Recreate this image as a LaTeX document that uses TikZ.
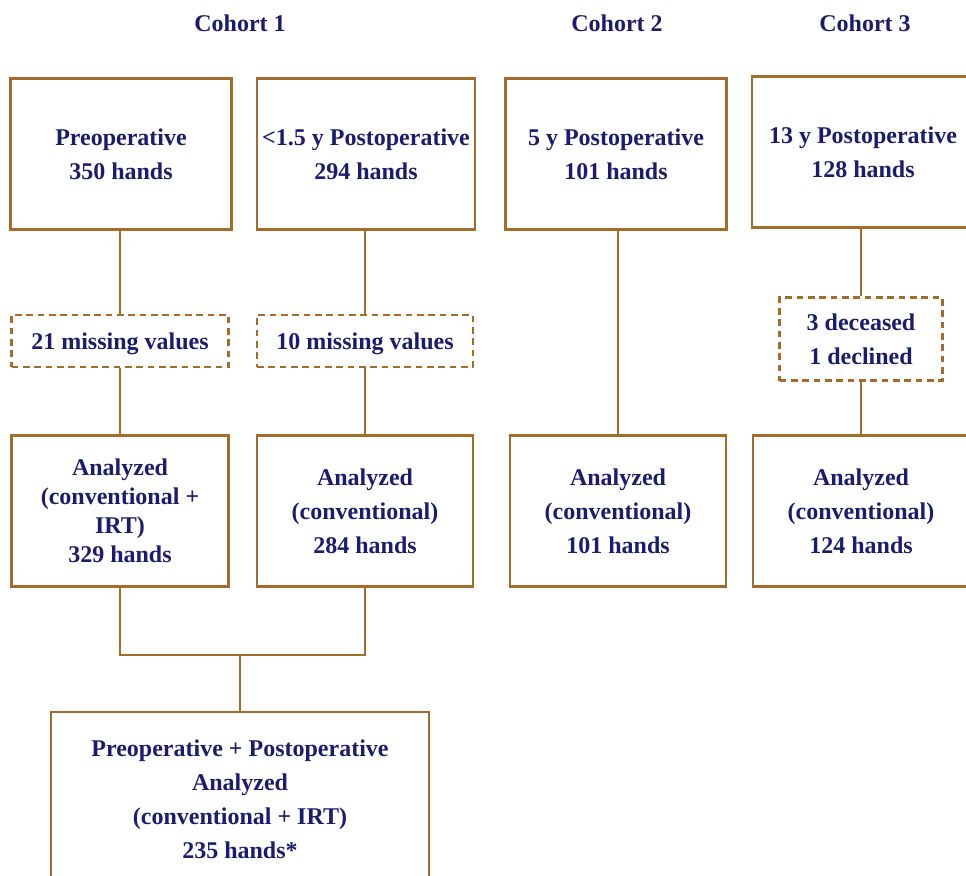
\documentclass[tikz,border=0pt]{standalone}
\usepackage{fontspec}
\setmainfont{Liberation Serif}
\definecolor{boxbrown}{RGB}{163,108,42}
\definecolor{textnavy}{RGB}{28,28,110}

\begin{document}
\begin{tikzpicture}[
  x=0.75pt, y=-0.75pt,
  every node/.style={align=center, text=textnavy, font=\fontsize{18}{25.5}\selectfont\bfseries},
  bigbox/.style={draw=boxbrown, line width=2.1pt, minimum width=#1, minimum height=113.25pt, inner sep=0pt},
  lossbox/.style={draw=boxbrown, line width=1.8pt, dash pattern=on 5pt off 3.5pt, minimum width=#1, inner sep=0pt},
  link/.style={draw=boxbrown, line width=2.1pt}
]
\useasboundingbox (0,0) rectangle (966,875);

% cohort titles
\node (title1) at (240,23) {Cohort 1};
\node (title2) at (617,23) {Cohort 2};
\node (title3) at (865,23) {Cohort 3};

% first row
\node[bigbox=165.75pt] (pre)   at (121,154) {Preoperative\\350 hands};
\node[bigbox=163.5pt]  (post1) at (366,154) {<1.5 y Postoperative\\294 hands};
\node[bigbox=165.75pt] (post5) at (616,154) {5 y Postoperative\\101 hands};
\node[bigbox=166.5pt]  (post13) at (863,152) {13 y Postoperative\\128 hands};

% losses
\node[lossbox=162.75pt, minimum height=39pt, text depth=0pt] (miss1) at (120,341) {21 missing values};
\node[lossbox=162pt, minimum height=39pt, text depth=0pt]    (miss2) at (365,341) {10 missing values};
\node[lossbox=122.25pt, minimum height=62.25pt] (lost3) at (861,339) {3 deceased\\1 declined};

% analyzed
\node[bigbox=162.75pt, font=\fontsize{18}{21.75}\selectfont\bfseries] (anapre) at (120,511) {Analyzed\\(conventional +\\IRT)\\329 hands};
\node[bigbox=162pt] (anapost1)  at (365,511) {Analyzed\\(conventional)\\284 hands};
\node[bigbox=162pt] (anapost5)  at (618,511) {Analyzed\\(conventional)\\101 hands};
\node[bigbox=162pt] (anapost13) at (861,511) {Analyzed\\(conventional)\\124 hands};

% combined
\coordinate (merge) at (240,655);
\node[bigbox=283.5pt, minimum height=130.5pt] (both) at (240,799) {Preoperative + Postoperative\\Analyzed\\(conventional + IRT)\\235 hands*};

% connectors
\draw[link] (pre.south -| miss1) -- (miss1);
\draw[link] (miss1) -- (anapre.north -| miss1);
\draw[link] (post1.south -| miss2) -- (miss2);
\draw[link] (miss2) -- (anapost1);
\draw[link] (post5.south -| anapost5) -- (anapost5);
\draw[link] (post13.south -| lost3) -- (lost3);
\draw[link] (lost3) -- (anapost13.north -| lost3);
\draw[link] (anapre.south) |- (merge) -| (anapost1.south);
\draw[link] (merge) -- (both);

\end{tikzpicture}
\end{document}
